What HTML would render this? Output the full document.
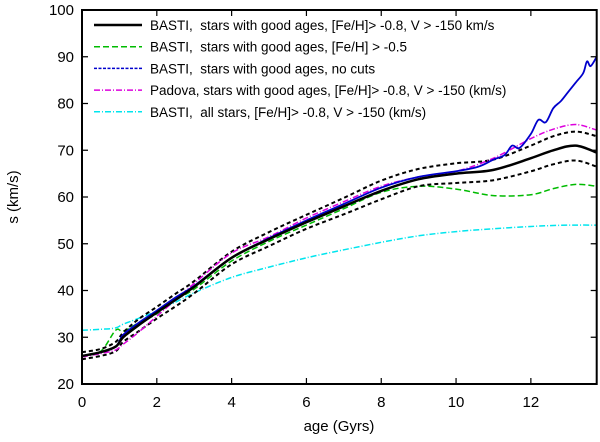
<!DOCTYPE html>
<html><head><meta charset="utf-8"><style>
html,body{margin:0;padding:0;background:#fff;}
svg{display:block;font-family:"Liberation Sans",sans-serif;}
</style></head><body>
<svg id="chart" width="600" height="442" viewBox="0 0 600 442" xmlns="http://www.w3.org/2000/svg">
<g id="marks"></g>
<rect x="82" y="10" width="514.7" height="374" fill="none" stroke="#000" stroke-width="2"/>
<g id="axes"></g>
<text x="339" y="431" font-size="15" text-anchor="middle">age (Gyrs)</text>
<text transform="translate(18,197) rotate(-90)" font-size="15" text-anchor="middle">s (km/s)</text>
<g id="legend"></g>
</svg>
<script>
const xTicks=[0,2,4,6,8,10,12];
const yTicks=[20,30,40,50,60,70,80,90,100];
const ages=[0,0.5,0.9,1.1,1.5,2,2.5,3,4,5,6,7,8,9,10,11,12,12.6,13.2,13.76];
const blackSolid=[26,26.8,28,30,32.5,35.3,38,40.8,47,51,54.6,58,61.3,63.8,65,65.8,68.3,70,71,69.5];
const blackUpper=[26.8,27.5,29,31,33.8,36.5,39.3,42,48.3,52.5,56.2,59.8,63.5,66,67.2,68,71,73,74,73];
const blackLower=[25.3,26,27,29,31.2,34,36.6,39.4,45.6,49.5,53.2,56.3,59.5,62.3,63,63.6,65.5,67,67.8,66.5];
const green=[26,27,31.5,31.3,33,35,38,40.3,46.3,50.5,54,57.5,61,62.3,61.7,60.3,60.5,61.8,62.7,62.3];
const blueAges=[0,0.5,0.9,1.1,1.5,2,2.5,3,4,5,6,7,8,9,10,10.6,11,11.3,11.5,11.7,12,12.2,12.4,12.6,12.8,13,13.2,13.4,13.5,13.6,13.76];
const blue=[26,26.8,28,30.5,33,35.7,38.5,41,47,51.2,55,58.5,62,64.3,65.5,66.5,68,69,71,70.5,73.5,76.5,76,79,80.5,82.5,84.5,86.5,89,88,90];
const magenta=[25.8,26.5,27.3,28.5,31,34.5,38,41.5,48,51.5,55.5,59,62.3,64.3,65.5,68.3,72.5,74.5,75.5,74.3];
const cyan=[31.5,31.7,32,32.8,34,35.6,37.5,39.5,42.8,45,47,48.7,50.3,51.7,52.6,53.2,53.7,53.9,54,54];
const seriesNames=["BASTI,  stars with good ages, [Fe/H]> -0.8, V > -150 km/s","BASTI,  stars with good ages, [Fe/H] > -0.5","BASTI,  stars with good ages, no cuts","Padova, stars with good ages, [Fe/H]> -0.8, V > -150 (km/s)","BASTI,  all stars, [Fe/H]> -0.8, V > -150 (km/s)"];

const NS="http://www.w3.org/2000/svg";
const L=82,R=596.7,T=10,B=384,XMAX=13.76;
function sx(a){return L+a*(R-L)/XMAX;}
function sy(v){return B-(v-20)*(B-T)/80;}
function pathD(xs,ys,smooth){
  const p=xs.map((a,i)=>[sx(a),sy(ys[i])]);
  let d="M"+p[0][0].toFixed(1)+","+p[0][1].toFixed(1);
  for(let i=0;i<p.length-1;i++){
    const p0=p[i-1]||p[i],p1=p[i],p2=p[i+1],p3=p[i+2]||p[i+1];
    const k=smooth?6:1e9;
    const c1=[p1[0]+(p2[0]-p0[0])/k,p1[1]+(p2[1]-p0[1])/k];
    const c2=[p2[0]-(p3[0]-p1[0])/k,p2[1]-(p3[1]-p1[1])/k];
    d+="C"+c1.map(v=>v.toFixed(1))+" "+c2.map(v=>v.toFixed(1))+" "+p2.map(v=>v.toFixed(1));
  }
  return d;
}
const marks=document.getElementById('marks');
const defs=[
 {xs:ages,ys:cyan,c:"#00e5ee",w:1.5,da:"6,2,1,2",n:"cyan-all-stars-line",sm:true},
 {xs:ages,ys:green,c:"#00bb00",w:1.5,da:"6,3",n:"green-feh-05-line",sm:true},
 {xs:ages,ys:blackUpper,c:"#000",w:2,da:"4,3",n:"black-upper-bound-line",sm:true},
 {xs:ages,ys:blackLower,c:"#000",w:2,da:"4,3",n:"black-lower-bound-line",sm:true},
 {xs:ages,ys:magenta,c:"#dd00dd",w:1.5,da:"6,2,1,2",n:"magenta-padova-line",sm:true},
 {xs:blueAges,ys:blue,c:"#0000cc",w:1.8,da:"",n:"blue-no-cuts-line",sm:true},
 {xs:ages,ys:blackSolid,c:"#000",w:2.5,da:"",n:"black-basti-line",sm:true}
];
defs.forEach(s=>{
  const el=document.createElementNS(NS,'path');
  el.setAttribute('d',pathD(s.xs,s.ys,s.sm));
  el.setAttribute('fill','none');el.setAttribute('stroke',s.c);el.setAttribute('stroke-width',s.w);
  if(s.da)el.setAttribute('stroke-dasharray',s.da);
  
  
  marks.appendChild(el);
});
const axes=document.getElementById('axes');
xTicks.forEach(t=>{
  const x=sx(t);
  const l=document.createElementNS(NS,'path');
  l.setAttribute('d',`M${x},${B}v-6M${x},${T}v6`);l.setAttribute('stroke','#000');l.setAttribute('stroke-width','1.2');
  
  
  axes.appendChild(l);
  const tx=document.createElementNS(NS,'text');
  tx.setAttribute('x',x);tx.setAttribute('y',B+23);tx.setAttribute('font-size','15');tx.setAttribute('text-anchor','middle');
  tx.textContent=t;
  
  
  axes.appendChild(tx);
});
yTicks.forEach(t=>{
  const y=sy(t);
  const l=document.createElementNS(NS,'path');
  l.setAttribute('d',`M${L},${y}h6M${R},${y}h-6`);l.setAttribute('stroke','#000');l.setAttribute('stroke-width','1.2');
  
  
  axes.appendChild(l);
  const tx=document.createElementNS(NS,'text');
  tx.setAttribute('x',L-8);tx.setAttribute('y',y+5);tx.setAttribute('font-size','15');tx.setAttribute('text-anchor','end');
  tx.textContent=t;
  
  
  axes.appendChild(tx);
});
const lg=document.getElementById('legend');
const lgStyle=[["#000",2.5,""],["#00bb00",1.5,"6,3"],["#0000cc",1.5,"3,1.5"],["#dd00dd",1.5,"6,2,1,2"],["#00e5ee",1.5,"6,2,1,2"]];
seriesNames.forEach((n,i)=>{
  const y=25+i*21.7;
  const l=document.createElementNS(NS,'line');
  l.setAttribute('x1',94);l.setAttribute('x2',142);l.setAttribute('y1',y);l.setAttribute('y2',y);
  l.setAttribute('stroke',lgStyle[i][0]);l.setAttribute('stroke-width',lgStyle[i][1]);
  if(lgStyle[i][2])l.setAttribute('stroke-dasharray',lgStyle[i][2]);
  
  
  lg.appendChild(l);
  const t=document.createElementNS(NS,'text');
  t.setAttribute('x',150);t.setAttribute('y',y+5);t.setAttribute('font-size','13.5');
  t.setAttribute('xml:space','preserve');t.style.whiteSpace='pre';
  t.textContent=n;
  
  
  lg.appendChild(t);
});
</script>
</body></html>
